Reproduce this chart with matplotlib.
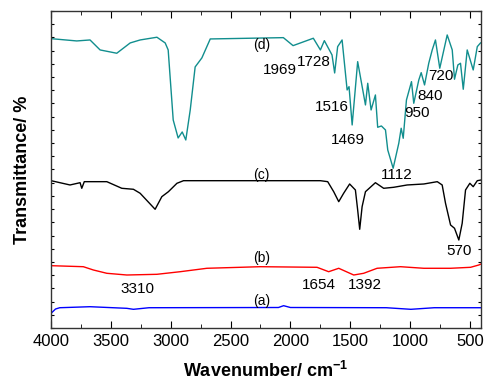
import numpy as np
import matplotlib
matplotlib.use('Agg')
import matplotlib.pyplot as plt
from matplotlib.ticker import MultipleLocator, NullFormatter

plt.rcParams['font.family'] = ['Liberation Sans', 'DejaVu Sans']
plt.rcParams['mathtext.fontset'] = 'custom'
plt.rcParams['mathtext.rm'] = 'Liberation Sans'
plt.rcParams['mathtext.bf'] = 'Liberation Sans:bold'

# FTIR spectra, stacked with offsets (transmittance, arbitrary units)
wn_a = [3997, 3960, 3925, 3672, 3365, 3310, 3180, 2100, 2057, 2000, 1200, 995, 800, 410]
t_a = [4.64, 5.99, 6.40, 6.72, 6.21, 5.90, 6.40, 6.47, 7.04, 6.47, 6.40, 5.90, 6.40, 6.40]

wn_b = [3997, 3728, 3644, 3532, 3365, 3114, 2920, 2697, 2419, 2252, 1778, 1681, 1597,
        1472, 1389, 1277, 1082, 887, 664, 497, 428, 410]
t_b = [19.66, 19.34, 18.30, 17.26, 16.72, 16.94, 17.76, 18.84, 19.15, 19.34, 19.15, 17.76,
       18.84, 16.72, 17.26, 18.84, 19.34, 18.84, 18.84, 19.15, 19.88, 20.19]

wn_c = [3997, 3839, 3755, 3741, 3720, 3672, 3532, 3407, 3310, 3254, 3129, 3073, 3018, 2947,
        2892, 1750, 1689, 1639, 1597, 1556, 1506, 1458, 1439, 1422, 1402, 1374, 1291, 1222,
        1138, 1026, 887, 775, 734, 706, 664, 631, 595, 567, 539, 503, 475, 441, 410]
t_c = [46.47, 45.12, 45.84, 44.07, 46.16, 46.16, 46.16, 44.07, 43.76, 42.50, 37.45, 41.43,
       43.00, 45.65, 46.47, 46.47, 46.16, 43.00, 39.85, 42.50, 45.43, 43.54, 37.23, 31.14,
       38.27, 43.00, 45.84, 44.07, 44.39, 45.12, 45.43, 46.16, 45.12, 39.34, 32.50, 31.46,
       27.76, 33.03, 43.54, 45.65, 44.58, 46.47, 46.69]

wn_d = [3997, 3783, 3672, 3588, 3449, 3337, 3254, 3114, 3045, 3020, 2978, 2937, 2903, 2873,
        2836, 2795, 2739, 2669, 2059, 1978, 1809, 1750, 1717, 1653, 1631, 1606, 1569, 1527,
        1511, 1485, 1439, 1374, 1355, 1327, 1291, 1272, 1241, 1207, 1188, 1143, 1096, 1076,
        1059, 1032, 990, 971, 929, 909, 881, 846, 817, 790, 754, 692, 650, 631, 603, 581,
        558, 525, 475, 441, 414]
t_d = [91.27, 90.55, 90.86, 87.71, 86.67, 89.92, 90.86, 91.72, 89.92, 87.71, 65.62, 59.95,
       61.84, 59.31, 68.78, 82.35, 85.19, 91.18, 91.59, 89.07, 91.40, 87.71, 90.64, 86.13,
       80.45, 88.75, 90.86, 75.09, 76.13, 64.05, 84.02, 70.36, 77.20, 68.78, 73.51, 63.32,
       63.73, 62.47, 56.16, 50.39, 58.27, 63.01, 59.85, 71.93, 77.71, 70.89, 78.24, 80.55,
       76.67, 83.51, 87.71, 90.86, 81.94, 92.44, 87.71, 78.47, 82.98, 83.51, 75.31, 87.71,
       81.40, 88.75, 89.92]

# curve tags: (text, wavenumber, y)
tags = [('(a)', 2240, 8.5), ('(b)', 2240, 22.0), ('(c)', 2240, 48.3), ('(d)', 2240, 89.3)]

# peak annotations: (text, wavenumber, y)
peaks_d = [('1969', 2084, 81.4), ('1728', 1801, 84.0), ('1516', 1653, 69.6),
           ('1469', 1522, 59.3), ('1112', 1115, 48.3), ('950', 942, 67.7),
           ('840', 834, 73.2), ('720', 745, 79.5)]
peaks_c = [('570', 595, 24.4)]
peaks_b = [('3310', 3277, 12.2), ('1654', 1761, 13.6), ('1392', 1380, 13.6)]

fig = plt.figure(figsize=(4.84, 3.84), dpi=100)
ax = fig.add_axes([0.1048, 0.1458, 0.889, 0.8256])

ax.plot(wn_a, t_a, color='#0000ff', lw=1.0)
ax.plot(wn_b, t_b, color='#ff0000', lw=1.0)
ax.plot(wn_c, t_c, color='black', lw=1.0)
ax.plot(wn_d, t_d, color='#118e8e', lw=1.0)

for txt, x, y in tags:
    ax.text(x, y, txt, fontsize=10, ha='center', va='center')
for txt, x, y in peaks_d + peaks_c + peaks_b:
    ax.text(x, y, txt, fontsize=11, ha='center', va='center')

ax.set_xlim(4000, 410)
ax.set_ylim(0, 100)
ax.xaxis.set_major_locator(MultipleLocator(500))
ax.xaxis.set_minor_locator(MultipleLocator(250))
ax.yaxis.set_major_locator(MultipleLocator(100 / 24))
ax.yaxis.set_major_formatter(NullFormatter())
ax.tick_params(axis='x', which='major', direction='in', length=5, top=True, labelsize=12, pad=4)
ax.tick_params(axis='x', which='minor', direction='in', length=3, top=True)
ax.tick_params(axis='y', which='major', direction='in', length=2.5, right=True)
for sp in ax.spines.values():
    sp.set_linewidth(1.0)
    sp.set_color('#333333')

ax.set_xlabel('Wavenumber/ cm$^{\\mathbf{-1}}$', fontsize=13, fontweight='bold', labelpad=9)
ax.set_ylabel('Transmittance/ %', fontsize=13, fontweight='bold', labelpad=11)

fig.savefig('out.png', dpi=100)
